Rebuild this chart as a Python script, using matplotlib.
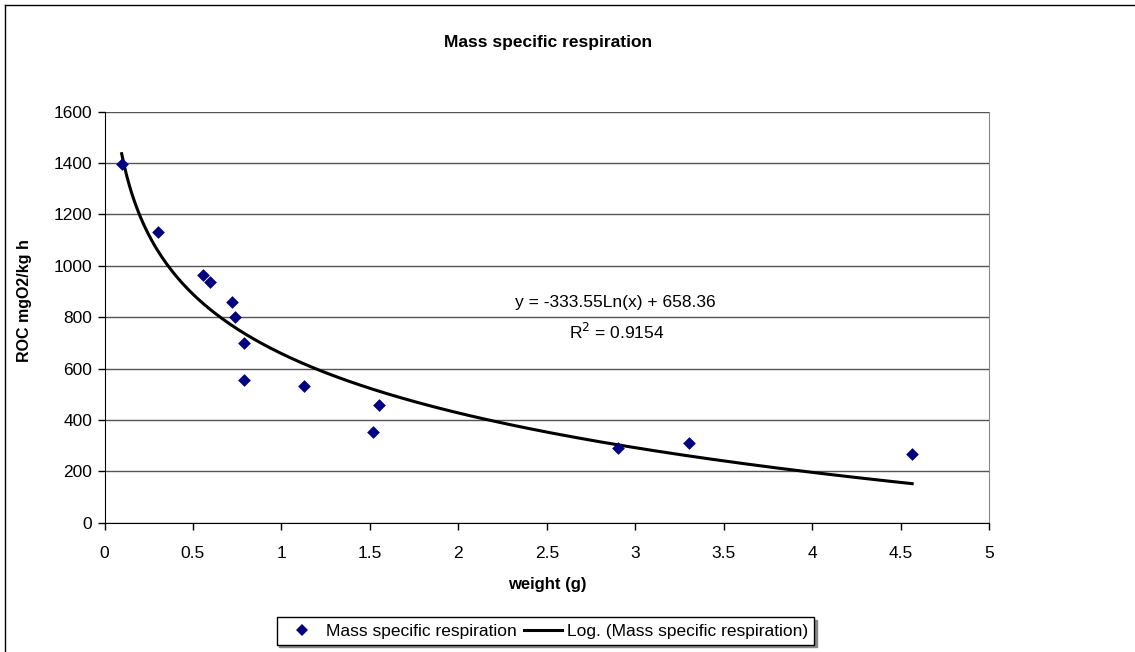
import matplotlib
matplotlib.use("Agg")
import matplotlib.pyplot as plt
import numpy as np
from matplotlib.lines import Line2D

weight = [0.097, 0.304, 0.558, 0.598, 0.720, 0.735, 0.790, 0.790, 1.128, 1.519, 1.551, 2.903, 3.304, 4.564]
roc = [1395, 1130, 964, 938, 858, 802, 700, 557, 532, 352, 458, 290, 309, 266]
coef_a = -333.55
coef_b = 658.36
r2_text = "0.9154"
x_ticks = [0, 0.5, 1, 1.5, 2, 2.5, 3, 3.5, 4, 4.5, 5]
x_tick_labels = ["0", "0.5", "1", "1.5", "2", "2.5", "3", "3.5", "4", "4.5", "5"]
y_ticks = [0, 200, 400, 600, 800, 1000, 1200, 1400, 1600]

plt.rcParams['font.family'] = ['Liberation Sans', 'DejaVu Sans']

W, H = 1135, 652
fig = plt.figure(figsize=(W / 100, H / 100), dpi=100)
fig.patch.set_facecolor('white')

left, right, top, bottom = 104.5, 989.3, 111.7, 522.7
ax = fig.add_axes([left / W, 1 - bottom / H, (right - left) / W, (bottom - top) / H])

ax.set_xlim(0, 5)
ax.set_ylim(0, 1600)
ax.set_xticks(x_ticks)
ax.set_xticklabels(x_tick_labels)
ax.set_yticks(y_ticks)
ax.tick_params(axis='both', direction='out', length=5, width=1, labelsize=12.5, color='black', pad=4)
ax.tick_params(axis='x', pad=12)
ax.yaxis.grid(True, color='#555555', linewidth=1)
ax.set_axisbelow(True)
ax.spines['top'].set_visible(False)
ax.spines['right'].set_color('#888888')
ax.spines['left'].set_color('black')
ax.spines['bottom'].set_color('black')

# trendline over the data range
xs = np.linspace(min(weight), max(weight), 300)
ys = coef_a * np.log(xs) + coef_b
ax.plot(xs, ys, color='black', linewidth=2.2, zorder=3)
ax.scatter(weight, roc, marker='D', s=42, color='#000080', zorder=4, linewidths=0)

ax.text(615 / W, 1 - 303 / H, f"y = {coef_a}Ln(x) + {coef_b}", transform=fig.transFigure,
        ha='center', va='center', fontsize=12.5)
ax.text(617 / W, 1 - 332 / H, f"R$^{{2}}$ = {r2_text}", transform=fig.transFigure,
        ha='center', va='center', fontsize=12.5)

fig.text(548 / W, 1 - 42 / H, "Mass specific respiration", ha='center', va='center',
         fontsize=12.5, fontweight='bold')
fig.text(547 / W, 1 - 585 / H, "weight (g)", ha='center', va='center',
         fontsize=12, fontweight='bold')
fig.text(25 / W, 1 - 301 / H, "ROC mgO2/kg h", ha='center', va='center', rotation=90,
         fontsize=11.5, fontweight='bold')

handles = [Line2D([], [], linestyle='none', marker='D', markersize=6, color='#000080', markeredgewidth=0),
           Line2D([], [], color='black', linewidth=2.2)]
leg = fig.legend(handles, ["Mass specific respiration", "Log. (Mass specific respiration)"],
                 loc='center', bbox_to_anchor=(545.5 / W, 1 - 631 / H), ncol=2,
                 fontsize=12.5, frameon=True, fancybox=False, edgecolor='black',
                 handlelength=2.2, handletextpad=0.3, columnspacing=0.4,
                 borderpad=0.35, shadow={'color': '#888888', 'alpha': 1})
leg.get_frame().set_linewidth(1)

# outer chart-area border (left and top visible)
fig.add_artist(Line2D([5 / W, 5 / W], [0, 1 - 5 / H], transform=fig.transFigure, color='black', linewidth=1))
fig.add_artist(Line2D([5 / W, 1], [1 - 5 / H, 1 - 5 / H], transform=fig.transFigure, color='black', linewidth=1))

fig.savefig("out.png", dpi=100)
